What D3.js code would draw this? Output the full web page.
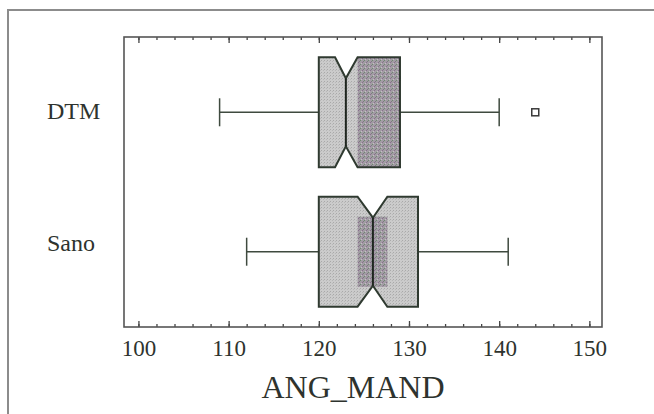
<!DOCTYPE html>
<html>
<head>
<meta charset="utf-8">
<script src="https://cdn.jsdelivr.net/npm/d3@7"></script>
<style>
  body { margin: 0; background: #fff; }
  text { font-family: "Liberation Serif", "Times New Roman", serif; fill: #2e332e; }
</style>
</head>
<body>
<div id="chart"></div>
<script>
// Box plot data for ANG_MAND
const categories = ["DTM", "Sano"];
const q1 = [120, 120];
const median = [123, 126];
const q3 = [129, 131];
const whiskerLow = [109, 112];
const whiskerHigh = [140, 141];
const notchLow = [121.8, 124.3];
const notchHigh = [124.3, 127.6];
const shadeLow = [124.3, 124.3];
const shadeHigh = [129, 127.6];
const outliers = [[144], []];
const xTicks = [100, 110, 120, 130, 140, 150];

const width = 654;
const height = 414;

const svg = d3.select('#chart')
  .append('svg')
    .attr('width', width)
    .attr('height', height);

// stipple patterns to mimic the scanned fill
const defs = svg.append('defs');
const light = defs.append('pattern')
    .attr('id', 'light')
    .attr('width', 3).attr('height', 3)
    .attr('patternUnits', 'userSpaceOnUse');
light.append('rect').attr('width', 3).attr('height', 3).attr('fill', '#cbcbcb');
light.append('rect').attr('width', 1).attr('height', 1).attr('fill', '#a9a9a9');
light.append('rect').attr('x', 2).attr('y', 1).attr('width', 1).attr('height', 1).attr('fill', '#b8b8b8');

const dark = defs.append('pattern')
    .attr('id', 'dark')
    .attr('width', 4).attr('height', 4)
    .attr('patternUnits', 'userSpaceOnUse');
dark.append('rect').attr('width', 4).attr('height', 4).attr('fill', '#a29ca4');
dark.append('rect').attr('width', 1).attr('height', 1).attr('fill', '#6f8a70');
dark.append('rect').attr('x', 2).attr('y', 2).attr('width', 1).attr('height', 1).attr('fill', '#8a6e8e');
dark.append('rect').attr('x', 1).attr('y', 3).attr('width', 1).attr('height', 1).attr('fill', '#c4c0c4');
dark.append('rect').attr('x', 3).attr('y', 1).attr('width', 1).attr('height', 1).attr('fill', '#7d7a80');

// outer frame (open to the right and bottom)
svg.append('path')
    .attr('d', `M8,${height} V10 H${width}`)
    .attr('fill', 'none')
    .attr('stroke', '#8c8c8c')
    .attr('stroke-width', 2);

const plot = { left: 124, right: 602, top: 37, bottom: 327 };

const x = d3.scaleLinear()
    .domain([98.4, 151.4])
    .range([plot.left, plot.right]);

const y = d3.scalePoint()
    .domain(categories)
    .range([plot.top, plot.bottom])
    .padding(0.54);

const halfBox = 55;
const notchDepth = 21;
const capHalf = 14;
const shadeInset = [0, 20];
const labelDy = [7, -1];

// axes: major and minor ticks pointing inward on top and bottom
const minorTicks = d3.range(100, 151, 2);
svg.append('g')
    .attr('transform', `translate(0,${plot.bottom})`)
    .call(d3.axisBottom(x).tickValues(minorTicks).tickSize(-3).tickFormat(''))
    .call(g => g.select('.domain').remove());
svg.append('g')
    .attr('transform', `translate(0,${plot.top})`)
    .call(d3.axisTop(x).tickValues(minorTicks).tickSize(-3).tickFormat(''))
    .call(g => g.select('.domain').remove());
svg.append('g')
    .attr('transform', `translate(0,${plot.top})`)
    .call(d3.axisTop(x).tickValues(xTicks).tickSize(-6).tickFormat(''))
    .call(g => g.select('.domain').remove());
const bottomAxis = svg.append('g')
    .attr('transform', `translate(0,${plot.bottom})`)
    .call(d3.axisBottom(x).tickValues(xTicks).tickSize(-6).tickPadding(13).tickFormat(d3.format('d')))
    .call(g => g.select('.domain').remove());
bottomAxis.selectAll('text')
    .attr('font-size', 23)
    .attr('font-family', '"Liberation Serif", serif')
    .attr('fill', '#2e332e');
svg.selectAll('.tick line')
    .attr('stroke', '#444')
    .attr('stroke-width', 1.3);

// plot frame
svg.append('rect')
    .attr('x', plot.left)
    .attr('y', plot.top)
    .attr('width', plot.right - plot.left)
    .attr('height', plot.bottom - plot.top)
    .attr('fill', 'none')
    .attr('stroke', '#555')
    .attr('stroke-width', 1.6);

// category labels
svg.selectAll('.cat-label')
  .data(categories)
  .join('text')
    .attr('class', 'cat-label')
    .attr('x', 47)
    .attr('y', (d, i) => y(d) + labelDy[i])
    .attr('font-size', 24)
    .text(d => d);

// axis title
svg.append('text')
    .attr('x', 353)
    .attr('y', 398)
    .attr('text-anchor', 'middle')
    .attr('font-size', 32)
    .text('ANG_MAND');

// boxes
const boxPath = i => {
  const c = y(categories[i]);
  const t = c - halfBox, b = c + halfBox;
  return [
    [x(q1[i]), t], [x(notchLow[i]), t], [x(median[i]), t + notchDepth],
    [x(notchHigh[i]), t], [x(q3[i]), t], [x(q3[i]), b],
    [x(notchHigh[i]), b], [x(median[i]), b - notchDepth], [x(notchLow[i]), b],
    [x(q1[i]), b]
  ];
};

const groups = svg.selectAll('.box-group')
  .data(categories)
  .join('g')
    .attr('class', 'box-group');

// whiskers
groups.each(function(d, i) {
  const g = d3.select(this);
  const c = y(d);
  const line = (x1, y1, x2, y2) => g.append('line')
      .attr('x1', x1).attr('y1', y1).attr('x2', x2).attr('y2', y2)
      .attr('stroke', '#3f4a3f').attr('stroke-width', 1.5);
  line(x(whiskerLow[i]), c, x(q1[i]), c);
  line(x(q3[i]), c, x(whiskerHigh[i]), c);
  line(x(whiskerLow[i]), c - capHalf, x(whiskerLow[i]), c + capHalf);
  line(x(whiskerHigh[i]), c - capHalf, x(whiskerHigh[i]), c + capHalf);

  defs.append('clipPath')
      .attr('id', 'clip-' + i)
    .append('polygon')
      .attr('points', boxPath(i).join(' '));

  g.append('polygon')
      .attr('points', boxPath(i).join(' '))
      .attr('fill', 'url(#light)');

  g.append('rect')
      .attr('clip-path', `url(#clip-${i})`)
      .attr('x', x(shadeLow[i]))
      .attr('y', c - halfBox + shadeInset[i])
      .attr('width', x(shadeHigh[i]) - x(shadeLow[i]))
      .attr('height', 2 * (halfBox - shadeInset[i]))
      .attr('fill', 'url(#dark)');

  g.append('polygon')
      .attr('points', boxPath(i).join(' '))
      .attr('fill', 'none')
      .attr('stroke', '#2f3a30')
      .attr('stroke-width', 2);

  // median line
  line(x(median[i]), c - halfBox + notchDepth, x(median[i]), c + halfBox - notchDepth)
      .attr('stroke', '#1f261f').attr('stroke-width', 2);

  // outliers
  g.selectAll('.outlier')
    .data(outliers[i])
    .join('rect')
      .attr('class', 'outlier')
      .attr('x', v => x(v) - 3.5)
      .attr('y', c - 3.5)
      .attr('width', 7)
      .attr('height', 7)
      .attr('fill', '#fff')
      .attr('stroke', '#3a3a3a')
      .attr('stroke-width', 1.5);
});
</script>
</body>
</html>
